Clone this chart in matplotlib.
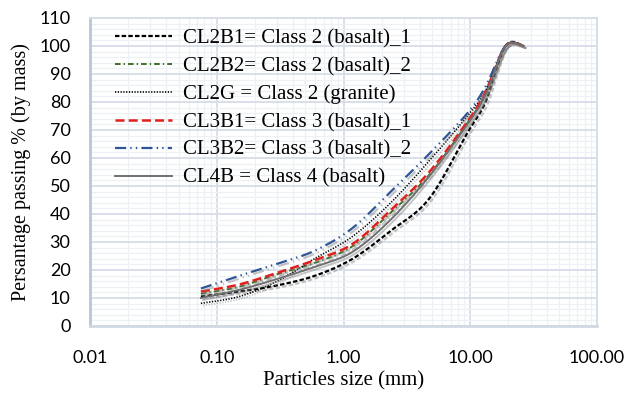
import numpy as np
import matplotlib.pyplot as plt
import matplotlib.patheffects as pe
from matplotlib.ticker import FixedLocator, NullFormatter, MultipleLocator

plt.rcParams['lines.scale_dashes'] = False

# sieve sizes (mm) and percentage passing for each mix
sizes = [0.075, 0.15, 0.3, 0.6, 1.18, 2.36, 4.75, 9.5, 13.2, 19.0, 26.5]
cl2b1 = [10.5, 12.3, 14.5, 18.0, 24.0, 34.0, 45.5, 69.0, 80.0, 100.0, 100.0]
cl2b2 = [11.5, 14.0, 18.5, 22.6, 28.5, 40.5, 54.0, 72.5, 83.0, 100.0, 100.0]
cl2g = [8.1, 10.5, 16.0, 24.2, 32.0, 44.0, 59.0, 75.0, 84.0, 100.0, 100.0]
cl3b1 = [12.3, 14.8, 19.0, 23.6, 29.3, 41.4, 55.0, 73.0, 83.7, 100.0, 100.0]
cl3b2 = [13.4, 17.9, 22.2, 27.0, 35.0, 48.0, 61.5, 76.0, 85.5, 100.0, 100.0]
cl4b = [10.0, 12.9, 16.8, 21.2, 26.5, 38.0, 53.5, 72.0, 82.5, 100.0, 100.0]

labels = ['CL2B1= Class 2 (basalt)_1',
          'CL2B2= Class 2 (basalt)_2',
          'CL2G = Class 2 (granite)',
          'CL3B1= Class 3 (basalt)_1',
          'CL3B2= Class 3 (basalt)_2',
          'CL4B = Class 4 (basalt)']

x_ticks = [0.01, 0.1, 1, 10, 100]
x_ticklabels = ['0.01', '0.10', '1.00', '10.00', '100.00']


def smooth(xs, ys, n=24):
    # spreadsheet-style smoothed line: cubic bezier through points in log-x space
    lx = np.log10(xs)
    y = np.asarray(ys, dtype=float)
    px = np.concatenate([[lx[0]], lx, [lx[-1]]])
    py = np.concatenate([[y[0]], y, [y[-1]]])
    out_x, out_y = [], []
    t = np.linspace(0, 1, n)
    for i in range(1, len(px) - 2):
        p0 = np.array([px[i], py[i]])
        p3 = np.array([px[i + 1], py[i + 1]])
        c1 = p0 + (np.array([px[i + 1], py[i + 1]]) - np.array([px[i - 1], py[i - 1]])) / 6
        c2 = p3 - (np.array([px[i + 2], py[i + 2]]) - np.array([px[i], py[i]])) / 6
        b = ((1 - t) ** 3)[:, None] * p0 + (3 * (1 - t) ** 2 * t)[:, None] * c1 \
            + (3 * (1 - t) * t ** 2)[:, None] * c2 + (t ** 3)[:, None] * p3
        out_x.extend(b[:, 0])
        out_y.extend(b[:, 1])
    return 10 ** np.array(out_x), np.array(out_y)


fig = plt.figure(figsize=(6.3, 3.98), dpi=100)
ax = fig.add_axes([90 / 630, 1 - 326 / 398, 507 / 630, 308 / 398])

series = [
    (cl2b1, dict(color='black', lw=1.6, ls=(0, (3.2, 1.6)))),
    (cl2b2, dict(color='#3f6e2a', lw=1.4, ls=(0, (4, 2.2, 1, 2.2)))),
    (cl2g, dict(color='black', lw=1.2, ls=(0, (0.9, 1.1)))),
    (cl3b1, dict(color='#e0201c', lw=1.8, ls=(0, (6.5, 3)))),
    (cl3b2, dict(color='#2f5597', lw=1.6, ls=(0, (8, 3, 1, 3, 1, 3)))),
    (cl4b, dict(color='#707070', lw=1.4, ls='-')),
]

shadow = [pe.SimpleLineShadow(offset=(1.5, -1.5), shadow_color='#808080', alpha=0.45),
          pe.Normal()]

for (vals, style), lab in zip(series, labels):
    sx, sy = smooth(sizes, vals)
    ax.plot(sx, sy, label=lab, path_effects=shadow, **style)

ax.set_xscale('log')
ax.set_xlim(0.01, 100)
ax.set_ylim(0, 110)

ax.xaxis.set_major_locator(FixedLocator(x_ticks))
ax.set_xticklabels(x_ticklabels)
ax.xaxis.set_minor_locator(FixedLocator([m * 10.0 ** e for e in range(-2, 2) for m in range(2, 10)]))
ax.xaxis.set_minor_formatter(NullFormatter())
ax.yaxis.set_major_locator(MultipleLocator(10))
ax.yaxis.set_minor_locator(MultipleLocator(2))

ax.grid(which='major', color='#d6dde8', lw=1.3)
ax.grid(which='minor', color='#edf0f5', lw=0.9)
ax.set_axisbelow(True)

for side in ['top', 'right']:
    ax.spines[side].set_color('#d6dde8')
    ax.spines[side].set_linewidth(1.3)
ax.spines['left'].set_color('#b9c5d8')
ax.spines['left'].set_linewidth(2)
ax.spines['bottom'].set_color('#d3d9e3')
ax.spines['bottom'].set_linewidth(2)

ax.tick_params(which='both', length=0)
ax.tick_params(axis='y', pad=14)
ax.tick_params(axis='x', pad=17)
for t in ax.get_xticklabels() + ax.get_yticklabels():
    t.set_fontfamily('Lato')
    t.set_fontsize(13)

ax.set_xlabel('Particles size (mm)', fontfamily='Liberation Serif', fontsize=15, labelpad=4)
ax.set_ylabel('Persantage passing % (by mass)', fontfamily='Liberation Serif', fontsize=14.5, labelpad=6)

leg = ax.legend(loc='upper left', bbox_to_anchor=(0.0205, 1.013), frameon=False,
                prop={'family': 'Liberation Serif', 'size': 15},
                handlelength=2.75, handletextpad=0.53, labelspacing=0.4, borderaxespad=0.3)
# legend samples drawn flat, without the drop shadow
for h in leg.get_lines():
    h.set_path_effects([])

fig.savefig('out.png', dpi=100)
